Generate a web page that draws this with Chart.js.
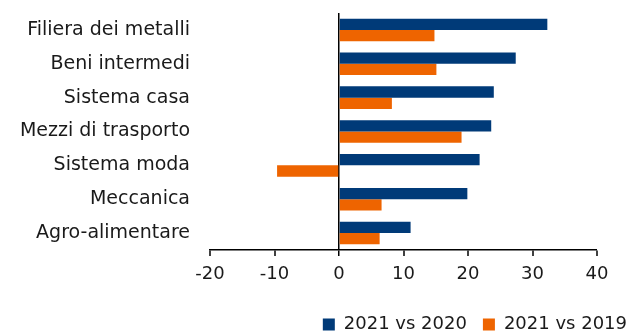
<!DOCTYPE html>
<html>
<head>
<meta charset="utf-8">
<script src="https://cdn.jsdelivr.net/npm/chart.js@4"></script>
<style>
  html, body { margin: 0; padding: 0; background: #fff; }
  #wrap { width: 630px; height: 332px; position: relative; }
</style>
</head>
<body>
<div id="wrap"><canvas id="c"></canvas></div>
<script>
// Settori industriali e variazioni percentuali del fatturato
const categories = [
  'Filiera dei metalli',
  'Beni intermedi',
  'Sistema casa',
  'Mezzi di trasporto',
  'Sistema moda',
  'Meccanica',
  'Agro-alimentare'
];
const vs2020 = [32.3, 27.4, 24.0, 23.6, 21.8, 19.9, 11.1];
const vs2019 = [14.8, 15.1, 8.2, 19.0, -9.6, 6.6, 6.3];
const seriesNames = ['2021 vs 2020', '2021 vs 2019'];
const xTicks = [-20, -10, 0, 10, 20, 30, 40];

const NAVY = '#003a78';
const ORANGE = '#ee6400';
const FONT = 'DejaVu Sans';

new Chart(document.getElementById('c'), {
  type: 'bar',
  data: {
    labels: categories,
    datasets: [
      { label: seriesNames[0], data: vs2020, backgroundColor: NAVY },
      { label: seriesNames[1], data: vs2019, backgroundColor: ORANGE }
    ]
  },
  options: {
    indexAxis: 'y',
    responsive: true,
    maintainAspectRatio: false,
    animation: false,
    datasets: { bar: { barPercentage: 1, categoryPercentage: 0.667 } },
    layout: { padding: { top: 13, right: -13, left: 0, bottom: -11.5 } },
    scales: {
      x: {
        min: xTicks[0],
        max: xTicks[xTicks.length - 1],
        afterBuildTicks: s => { s.ticks = xTicks.map(v => ({ value: v })); },
        afterFit: s => { s.height = 49.5; s.paddingRight = 33; },
        border: { display: true, color: '#000', width: 1.5 },
        grid: {
          drawOnChartArea: true,
          color: ctx => (ctx.tick && ctx.tick.value === 0 ? '#000' : 'rgba(0,0,0,0)'),
          lineWidth: ctx => (ctx.tick && ctx.tick.value === 0 ? 1.5 : 0),
          tickColor: '#000',
          tickLength: 6,
          tickWidth: 1.5
        },
        ticks: { color: '#1a1a1a', font: { family: FONT, size: 18 }, padding: 8, maxRotation: 0 }
      },
      y: {
        afterFit: s => { s.width = 210; s.paddingTop = 0; s.paddingBottom = 0; },
        border: { display: false },
        grid: { display: false },
        ticks: { color: '#1a1a1a', font: { family: FONT, size: 19 }, padding: 12 }
      }
    },
    plugins: {
      legend: {
        position: 'bottom',
        align: 'end',
        labels: {
          color: '#1a1a1a',
          font: { family: FONT, size: 18 },
          boxWidth: 12,
          boxHeight: 12,
          padding: 16
        }
      },
      tooltip: { enabled: false }
    }
  }
});
</script>
</body>
</html>
